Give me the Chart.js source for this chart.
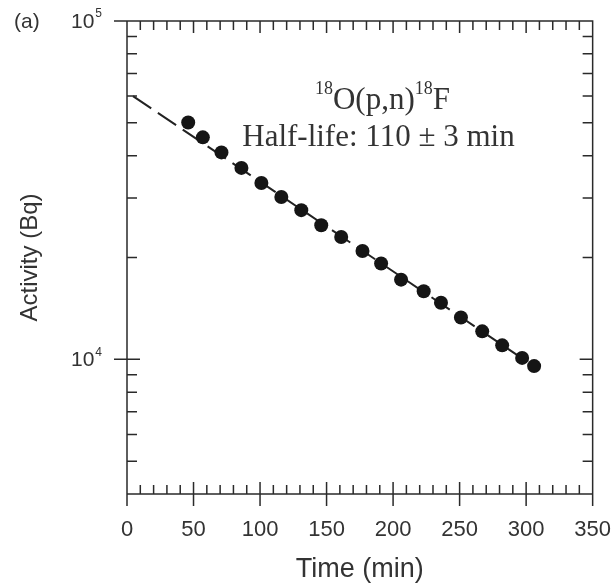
<!DOCTYPE html>
<html>
<head>
<meta charset="utf-8">
<script src="https://cdn.jsdelivr.net/npm/chart.js@4.4.1/dist/chart.umd.min.js"></script>
<style>
  html, body { margin: 0; padding: 0; background: #fff; }
</style>
</head>
<body>
<canvas id="decayChart" width="611" height="586"></canvas>
<script>
const times = [46, 57, 71, 86, 101, 116, 131, 146, 161, 177, 191, 206, 223, 236, 251, 267, 282, 297, 306];
const activity = [50100, 45300, 40900, 36800, 33200, 30200, 27600, 24900, 23000, 20900, 19200, 17200, 15900, 14700, 13300, 12100, 11000, 10100, 9550];

// dashed fit line, end points
const fitTimes = [4.5, 306];
const fitActivity = [60000, 9530];

const xTicks = [0, 50, 100, 150, 200, 250, 300, 350];
const yMajorTicks = [10000, 100000];
const yTickExponents = ['4', '5'];
const yMinorTicks = [5000, 6000, 7000, 8000, 9000, 20000, 30000, 40000, 50000, 60000, 70000, 80000, 90000];

const sansFont = '"Liberation Sans", Arial, sans-serif';
const serifFont = '"Liberation Serif", "Times New Roman", serif';
const inkColor = '#2a2a2a';

function drawRichText(ctx, parts, cx, baseline, size, supSize) {
    let total = 0;
    parts.forEach(p => {
        ctx.font = (p.sup ? supSize : size) + 'px ' + serifFont;
        p.w = ctx.measureText(p.t).width;
        total += p.w;
    });
    let xPos = cx - total / 2;
    parts.forEach(p => {
        ctx.font = (p.sup ? supSize : size) + 'px ' + serifFont;
        ctx.fillText(p.t, xPos, p.sup ? baseline - size * 0.5 : baseline);
        xPos += p.w;
    });
}

const frameAndTicks = {
    id: 'frameAndTicks',
    afterDatasetsDraw(chart) {
        const { ctx, chartArea: a, scales: { x, y } } = chart;
        ctx.save();
        ctx.strokeStyle = inkColor;
        ctx.lineWidth = 1.5;
        ctx.beginPath();
        ctx.rect(a.left, a.top, a.right - a.left, a.bottom - a.top);

        // minor x ticks every 10 min, inward on bottom and top
        for (let t = 10; t < 350; t += 10) {
            if (t % 50 === 0) continue;
            const px = x.getPixelForValue(t);
            ctx.moveTo(px, a.bottom);
            ctx.lineTo(px, a.bottom - 9);
            ctx.moveTo(px, a.top);
            ctx.lineTo(px, a.top + 9);
        }
        xTicks.forEach(t => {
            const px = x.getPixelForValue(t);
            ctx.moveTo(px, a.bottom + 12);
            ctx.lineTo(px, a.bottom - 12);
            ctx.moveTo(px, a.top);
            ctx.lineTo(px, a.top + 12);
        });

        yMinorTicks.forEach(v => {
            const py = y.getPixelForValue(v);
            ctx.moveTo(a.left, py);
            ctx.lineTo(a.left + 10, py);
            ctx.moveTo(a.right, py);
            ctx.lineTo(a.right - 10, py);
        });
        yMajorTicks.forEach(v => {
            const py = y.getPixelForValue(v);
            ctx.moveTo(a.left - 13, py);
            ctx.lineTo(a.left + 13, py);
            ctx.moveTo(a.right, py);
            ctx.lineTo(a.right - 13, py);
        });
        ctx.stroke();

        // y tick labels 10^4, 10^5
        ctx.fillStyle = '#333';
        ctx.textBaseline = 'middle';
        yMajorTicks.forEach((v, i) => {
            const py = y.getPixelForValue(v);
            ctx.font = '12px ' + sansFont;
            const supW = ctx.measureText(yTickExponents[i]).width;
            const right = a.left - 25;
            ctx.textAlign = 'right';
            ctx.fillText(yTickExponents[i], right, py - 7);
            ctx.font = '21px ' + sansFont;
            ctx.fillText('10', right - supW - 1, py + 1);
        });

        // panel label
        ctx.textAlign = 'left';
        ctx.font = '21px ' + sansFont;
        ctx.fillText('(a)', 14, a.top + 1);

        // reaction and half-life text
        ctx.fillStyle = '#333';
        ctx.textBaseline = 'alphabetic';
        drawRichText(ctx, [
            { t: '18', sup: true }, { t: 'O(p,n)' }, { t: '18', sup: true }, { t: 'F' }
        ], x.getPixelForValue(192), a.top + 88, 31, 18);
        drawRichText(ctx, [{ t: 'Half-life: 110 \u00b1 3 min' }], x.getPixelForValue(189), a.top + 125, 31, 18);
        ctx.restore();
    }
};

const ctx = document.getElementById('decayChart').getContext('2d');
const decayChart = new Chart(ctx, {
    type: 'scatter',
    data: {
        datasets: [{
            label: 'Activity',
            data: times.map((t, i) => ({ x: t, y: activity[i] })),
            backgroundColor: '#151515',
            borderWidth: 0,
            pointRadius: 7,
            pointHoverRadius: 7
        }, {
            label: 'Fit',
            data: fitTimes.map((t, i) => ({ x: t, y: fitActivity[i] })),
            showLine: true,
            borderColor: '#222',
            borderWidth: 2,
            borderDash: [22, 8],
            pointRadius: 0,
            fill: false
        }]
    },
    options: {
        responsive: false,
        devicePixelRatio: 1,
        animation: false,
        events: [],
        layout: { padding: { top: 21, right: 3, left: 0, bottom: 0 } },
        plugins: {
            legend: { display: false },
            tooltip: { enabled: false }
        },
        scales: {
            x: {
                type: 'linear',
                min: 0,
                max: 350,
                // invisible tick marks only used to push labels down
                grid: { display: true, color: 'rgba(0,0,0,0)', drawOnChartArea: false, drawTicks: true, tickLength: 23 },
                border: { display: false },
                afterBuildTicks: scale => {
                    scale.ticks = xTicks.map(v => ({ value: v }));
                },
                afterFit: scale => { scale.height = 92; },
                ticks: {
                    color: '#333',
                    padding: 0,
                    maxRotation: 0,
                    font: { family: sansFont, size: 22 }
                },
                title: {
                    display: true,
                    text: 'Time (min)',
                    color: '#333',
                    font: { family: sansFont, size: 27 },
                    padding: { top: 0, bottom: 0 }
                }
            },
            y: {
                type: 'logarithmic',
                min: 4000,
                max: 100000,
                grid: { display: false, drawTicks: false },
                border: { display: false },
                ticks: { display: false },
                afterFit: scale => { scale.width = 127; },
                title: {
                    display: true,
                    text: 'Activity (Bq)',
                    color: '#333',
                    font: { family: sansFont, size: 24 },
                    padding: { top: 16, bottom: 0 }
                }
            }
        }
    },
    plugins: [frameAndTicks]
});
</script>
</body>
</html>
